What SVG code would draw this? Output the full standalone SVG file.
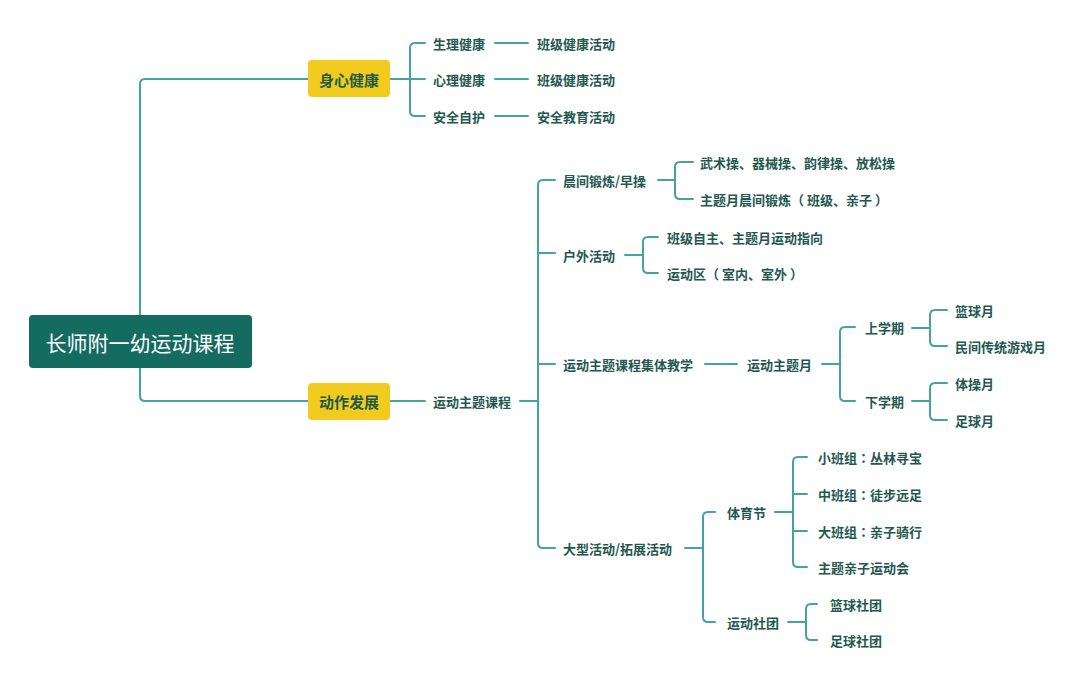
<svg xmlns="http://www.w3.org/2000/svg" width="1084" height="683" viewBox="0 0 1084 683">
<style>
.ln{fill:none;stroke:#46a29d;stroke-width:2;stroke-linecap:round}
.t{font-family:"Noto Sans CJK SC","Noto Sans",sans-serif;font-size:13px;font-weight:600;fill:#24584f;dominant-baseline:central}
.bt{font-family:"Noto Sans CJK SC","Noto Sans",sans-serif;font-size:15px;font-weight:700;fill:#1e5a45;dominant-baseline:central;text-anchor:middle}
.box{fill:#f2cb1f}
.c{font-family:"Noto Sans CJK TC","Noto Sans CJK SC",sans-serif}
</style>
<rect width="1084" height="683" fill="#ffffff"/>
<g id="connectors">
<path class="ln" d="M140 315 V84 Q140 79 145 79 H308"/>
<path class="ln" d="M140 368 V396 Q140 401 145 401 H308"/>
<path class="ln" d="M390 79 H410"/>
<path class="ln" d="M425 43 H415 Q410 43 410 48 V111 Q410 116 415 116 H425 M410 79 H425"/>
<path class="ln" d="M495 43 H528 M495 79 H528 M495 116 H528"/>
<path class="ln" d="M390 401 H425"/>
<path class="ln" d="M520 401 H538"/>
<path class="ln" d="M555 180 H543 Q538 180 538 185 V543 Q538 548 543 548 H555 M538 253 H555 M538 364 H555"/>
<path class="ln" d="M658 180 H675"/>
<path class="ln" d="M693 162 H680 Q675 162 675 167 V194 Q675 199 680 199 H693"/>
<path class="ln" d="M625 255 H643"/>
<path class="ln" d="M658 237 H648 Q643 237 643 242 V268 Q643 273 648 273 H658"/>
<path class="ln" d="M705 364 H737"/>
<path class="ln" d="M822 364 H840"/>
<path class="ln" d="M855 327 H845 Q840 327 840 332 V396 Q840 401 845 401 H855"/>
<path class="ln" d="M912 328 H930"/>
<path class="ln" d="M947 310 H935 Q930 310 930 315 V341 Q930 346 935 346 H947"/>
<path class="ln" d="M912 401 H930"/>
<path class="ln" d="M947 383 H935 Q930 383 930 388 V415 Q930 420 935 420 H947"/>
<path class="ln" d="M685 548 H703"/>
<path class="ln" d="M715 512 H708 Q703 512 703 517 V617 Q703 622 708 622 H715"/>
<path class="ln" d="M775 512 H793"/>
<path class="ln" d="M807 457 H798 Q793 457 793 462 V562 Q793 567 798 567 H807 M793 494 H807 M793 531 H807"/>
<path class="ln" d="M788 622 H806"/>
<path class="ln" d="M817 604 H811 Q806 604 806 609 V635 Q806 640 811 640 H817"/>
</g>
<g id="root">
<rect x="29" y="315" width="223" height="53" rx="4" fill="#146b5f"/>
<text x="140" y="342" font-family="'Noto Sans CJK SC','Noto Sans',sans-serif" font-size="21" fill="#ffffff" text-anchor="middle" dominant-baseline="central">长师附一幼运动课程</text>
</g>
<g id="n-shenxin"><rect class="box" x="308" y="60" width="82" height="37" rx="4"/><text class="bt" x="349" y="79">身心健康</text></g>
<g id="n-dongzuo"><rect class="box" x="308" y="383" width="82" height="37" rx="4"/><text class="bt" x="349" y="401">动作发展</text></g>
<g id="n-shengli"><text class="t" x="433" y="43">生理健康</text></g>
<g id="n-xinli"><text class="t" x="433" y="79">心理健康</text></g>
<g id="n-anquan"><text class="t" x="433" y="116">安全自护</text></g>
<g id="n-bj1"><text class="t" x="537" y="43">班级健康活动</text></g>
<g id="n-bj2"><text class="t" x="537" y="79">班级健康活动</text></g>
<g id="n-aqjy"><text class="t" x="537" y="116">安全教育活动</text></g>
<g id="n-ydztkc"><text class="t" x="433" y="401">运动主题课程</text></g>
<g id="n-chenjian"><text class="t" x="563" y="180">晨间锻炼/早操</text></g>
<g id="n-wushu"><text class="t" x="700" y="162">武术操、器械操、韵律操、放松操</text></g>
<g id="n-ztycj"><text class="t" x="700" y="199">主题月晨间锻炼（<tspan dx="3">班级、亲子</tspan><tspan dx="3">）</tspan></text></g>
<g id="n-huwai"><text class="t" x="563" y="255">户外活动</text></g>
<g id="n-bjzz"><text class="t" x="667" y="237">班级自主、主题月运动指向</text></g>
<g id="n-ydq"><text class="t" x="667" y="273">运动区（<tspan dx="3">室内、室外</tspan><tspan dx="3">）</tspan></text></g>
<g id="n-jtjx"><text class="t" x="563" y="364">运动主题课程集体教学</text></g>
<g id="n-ztm"><text class="t" x="747" y="364">运动主题月</text></g>
<g id="n-sxq"><text class="t" x="865" y="327">上学期</text></g>
<g id="n-xxq"><text class="t" x="865" y="401">下学期</text></g>
<g id="n-lqy"><text class="t" x="955" y="310">篮球月</text></g>
<g id="n-mjct"><text class="t" x="955" y="346">民间传统游戏月</text></g>
<g id="n-tcy"><text class="t" x="955" y="383">体操月</text></g>
<g id="n-zqy"><text class="t" x="955" y="420">足球月</text></g>
<g id="n-dxhd"><text class="t" x="563" y="548">大型活动/拓展活动</text></g>
<g id="n-tyj"><text class="t" x="727" y="512">体育节</text></g>
<g id="n-ydst"><text class="t" x="727" y="622">运动社团</text></g>
<g id="n-xbz"><text class="t" x="818" y="457">小班组<tspan class="c">：</tspan>丛林寻宝</text></g>
<g id="n-zbz"><text class="t" x="818" y="494">中班组<tspan class="c">：</tspan>徒步远足</text></g>
<g id="n-dbz"><text class="t" x="818" y="531">大班组<tspan class="c">：</tspan>亲子骑行</text></g>
<g id="n-ztqz"><text class="t" x="818" y="567">主题亲子运动会</text></g>
<g id="n-lqst"><text class="t" x="830" y="604">篮球社团</text></g>
<g id="n-zqst"><text class="t" x="830" y="640">足球社团</text></g>
</svg>
